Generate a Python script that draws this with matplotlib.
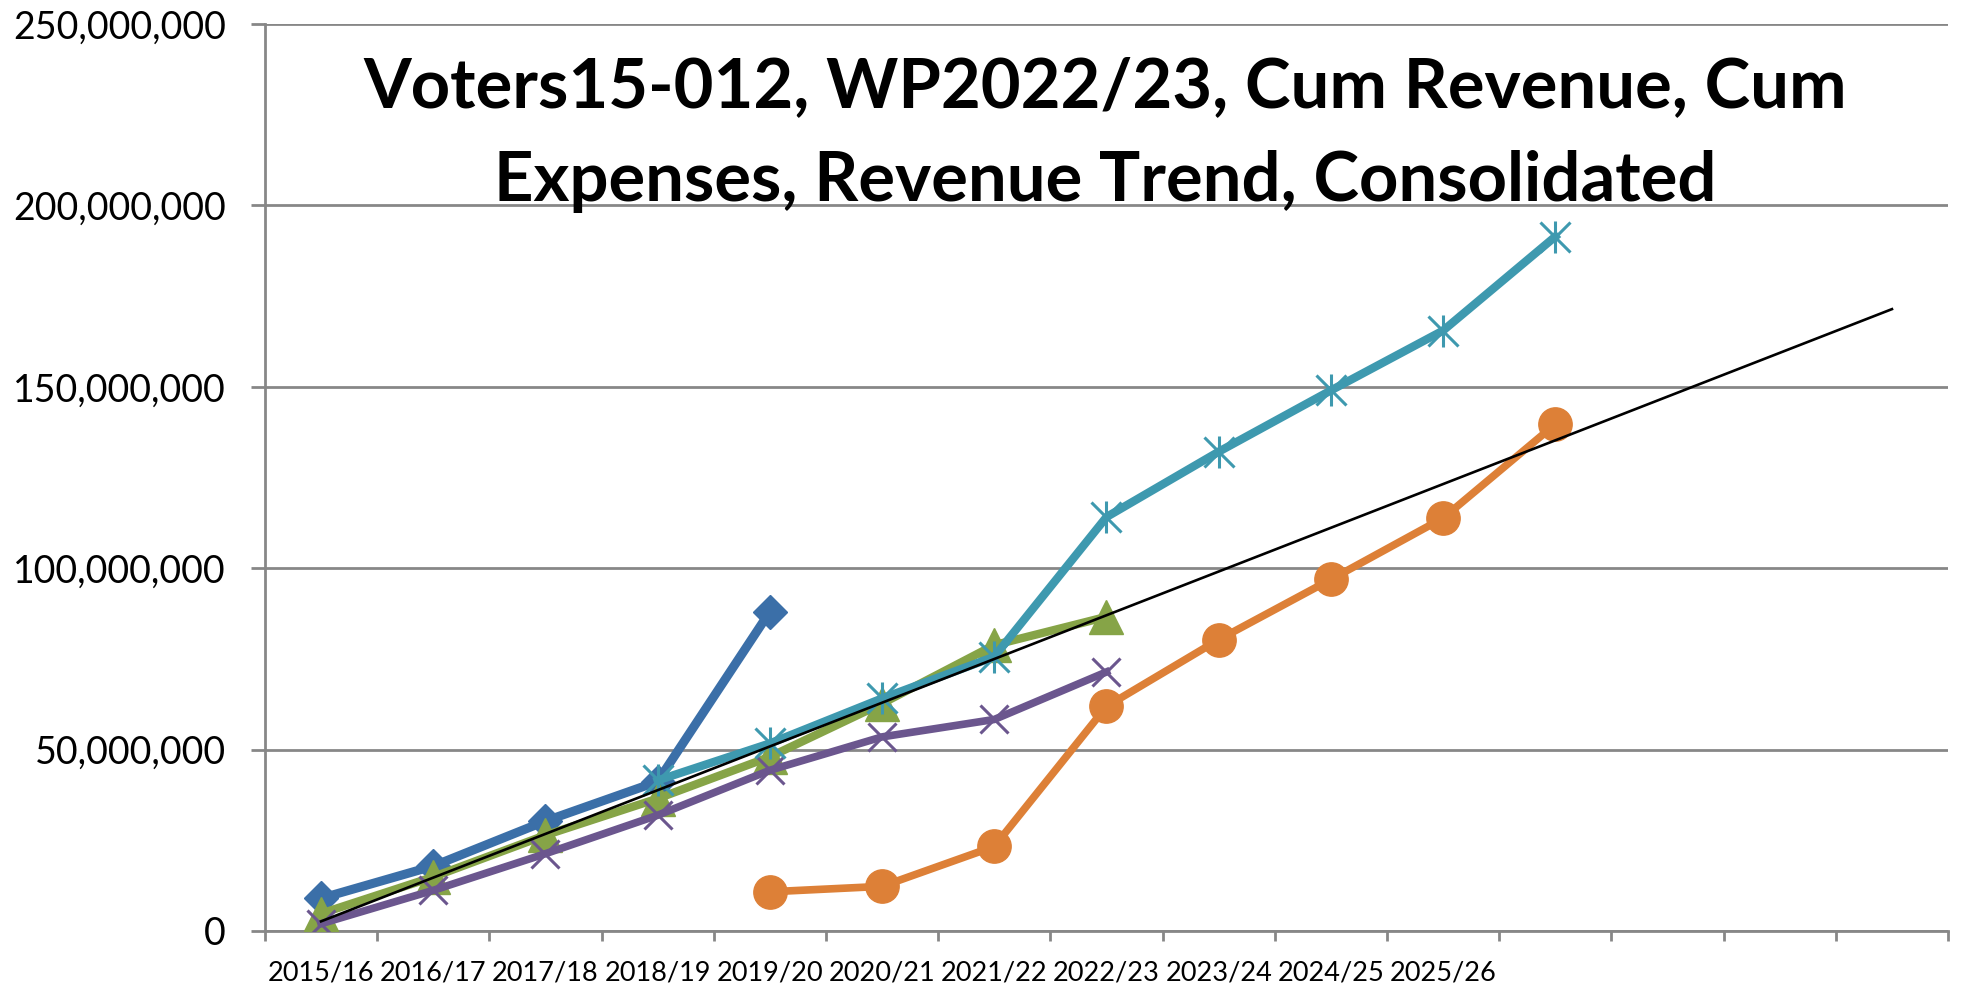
import numpy as np
import matplotlib
matplotlib.use("Agg")
from matplotlib import pyplot as plt
from matplotlib.ticker import FuncFormatter

years = ['2015/16', '2016/17', '2017/18', '2018/19', '2019/20', '2020/21',
         '2021/22', '2022/23', '2023/24', '2024/25', '2025/26', '', '', '', '']

# values in millions, None = no point
blue_vals = [9.0, 17.9, 30.3, 41.2, 88.0]
orange_vals = [None, None, None, None, 10.8, 12.3, 23.3, 61.9, 80.3, 96.9, 113.8, 139.7]
green_vals = [4.8, 14.9, 26.4, 36.5, 48.0, 62.7, 78.8, 86.6]
purple_vals = [2.0, 11.2, 21.3, 31.9, 44.3, 53.5, 58.3, 71.4]
teal_vals = [None, None, None, 41.5, 51.7, 64.1, 75.6, 114.1, 132.1, 149.0, 165.5, 191.4]

def series(vals):
    x = [i for i, v in enumerate(vals) if v is not None]
    y = [v * 1e6 for v in vals if v is not None]
    return x, y

plt.rcParams['font.family'] = ['Lato', 'DejaVu Sans']
fig = plt.figure(figsize=(19.61, 9.86), dpi=100)
ax = fig.add_axes([0.1351, 0.0558, 0.9934 - 0.1351, 0.9757 - 0.0558])

grid_c = '#878787'

x, y = series(blue_vals)
ax.plot(x, y, color='#3B6FA8', lw=6.5, marker='D', ms=17, zorder=3)
x, y = series(orange_vals)
ax.plot(x, y, color='#DD8037', lw=5.5, marker='o', ms=24, zorder=3)
x, y = series(green_vals)
ax.plot(x, y, color='#86A447', lw=6, marker='^', ms=25, zorder=4)
x, y = series(purple_vals)
ax.plot(x, y, color='#6B568E', lw=5.5, marker='x', ms=20, mew=2.2, zorder=5)
x, y = series(teal_vals)
ax.plot(x, y, color='#3E99AF', lw=6, marker='x', ms=21, mew=2.2, zorder=6)
ax.plot(x, y, color='#3E99AF', lw=0, marker='|', ms=23, mew=2.2, zorder=6)

# linear trend of cumulative revenue over all categories
gx, gy = series(green_vals)
k, b = np.polyfit(gx, gy, 1)
tx = np.arange(len(years))
ax.plot(tx, k * tx + b, color='black', lw=1.9, zorder=7)

ax.set_xlim(-0.5, len(years) - 0.5)
ax.set_ylim(0, 250e6)
ax.set_yticks(np.arange(0, 250e6 + 1, 50e6))
ax.yaxis.set_major_formatter(FuncFormatter(lambda v, p: f'{int(v):,}'))
ax.set_xticks(range(len(years)))
ax.set_xticklabels(years)
ax.set_xticks(np.arange(-0.5, len(years), 1), minor=True)
ax.tick_params(axis='x', which='major', length=0, pad=21, labelsize=19.5)
ax.tick_params(axis='x', which='minor', length=7, width=2, color=grid_c)
ax.tick_params(axis='y', length=10, width=2, color=grid_c, pad=18, labelsize=27)
ax.grid(axis='y', color=grid_c, lw=2)
ax.set_axisbelow(True)
for s in ['top', 'right']:
    ax.spines[s].set_visible(False)
for s in ['left', 'bottom']:
    ax.spines[s].set_color(grid_c)
    ax.spines[s].set_linewidth(2)

fig.text(0.5635, 0.8635, 'Voters15-012, WP2022/23, Cum Revenue, Cum\nExpenses, Revenue Trend, Consolidated',
         ha='center', va='center', fontsize=49.5, fontweight='bold', linespacing=1.6)

fig.savefig('out.png', dpi=100)
